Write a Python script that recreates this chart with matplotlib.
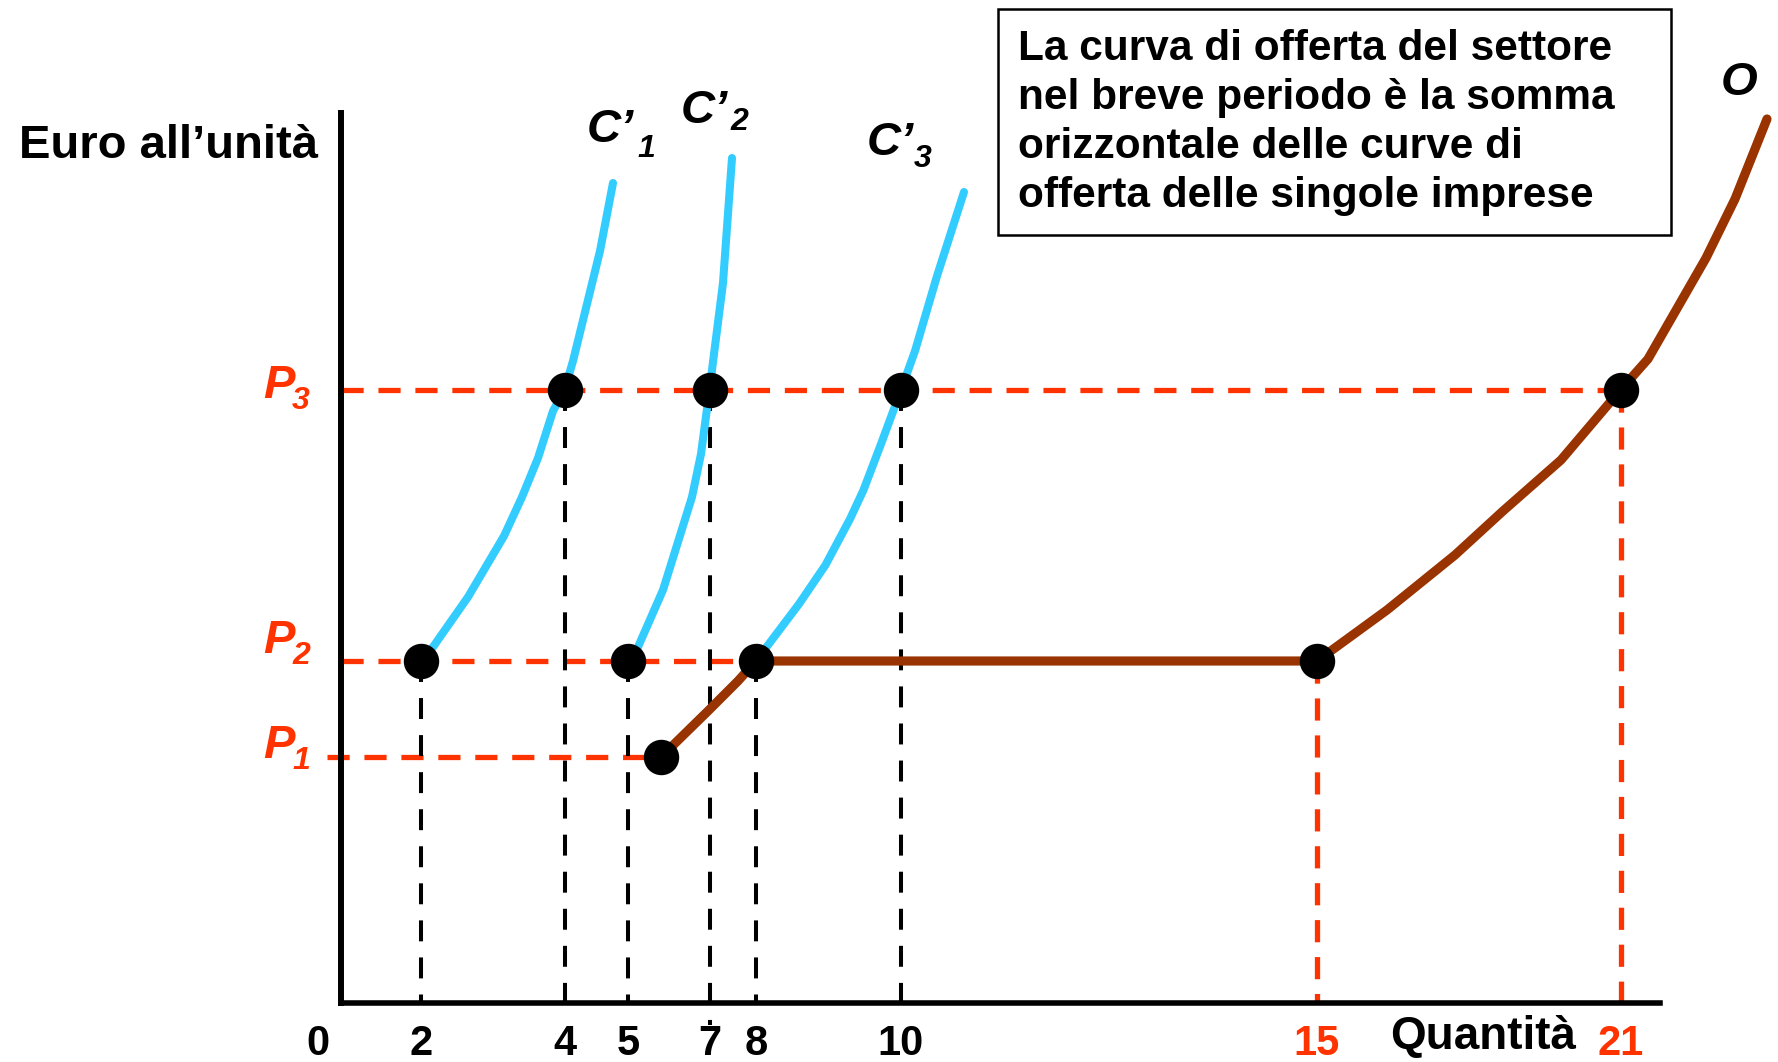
import matplotlib.pyplot as plt
from matplotlib.patches import Rectangle

plt.rcParams['font.family'] = ['Liberation Sans', 'DejaVu Sans']

# colours
CYAN = '#33CCFF'
BROWN = '#993300'
RED = '#FF3300'

# schematic units: x = quantity axis, y = euro per unit (origin at the axes corner)
price_subs = ['1', '2', '3']
price_y = [246, 342, 613]

qty_labels = ['2', '4', '5', '7', '8', '10', '15', '21']
qty_x = [80, 223.5, 287, 368.5, 415, 560, 976, 1279.5]
qty_price = [1, 2, 1, 2, 1, 2, 1, 2]          # index into price_y
qty_sector = [False, False, False, False, False, False, True, True]

# marginal cost curves of the three firms
c1_x = [80, 92, 127, 163, 181, 197, 212, 223.5, 232, 246, 259, 272]
c1_y = [342, 356, 406, 467, 506, 545, 592, 613, 642, 699, 752, 820]
c2_x = [287, 297, 322, 351, 360, 368.5, 373, 382, 391]
c2_y = [342, 356, 413, 506, 549, 613, 649, 720, 845]
c3_x = [320, 367, 397, 415, 458, 484.5, 509, 522.5, 540, 560, 574, 596, 623]
c3_y = [246, 292, 322, 342, 399, 438, 484, 513, 559, 613, 652, 727, 811]

# short-run industry supply O
o_x = [320, 367, 397, 415, 976, 1046, 1114, 1162, 1220, 1279.5, 1307, 1365, 1394, 1426]
o_y = [246, 292, 322, 342, 342, 393, 448, 492, 543, 613, 644, 745, 804, 884]

box_lines = ['La curva di offerta del settore',
             'nel breve periodo è la somma',
             'orizzontale delle curve di',
             'offerta delle singole imprese']

fig = plt.figure(figsize=(17.78, 10.62), dpi=100)
ax = fig.add_axes([341 / 1778, 59 / 1062, 1319 / 1778, 890 / 1062])
ax.set_xlim(0, 1319)
ax.set_ylim(0, 890)
for s in ['top', 'right']:
    ax.spines[s].set_visible(False)
ax.spines['left'].set_linewidth(4.3)
ax.spines['bottom'].set_linewidth(4.0)
ax.set_xticks([])
ax.set_yticks([])

red_dash = dict(color=RED, lw=3.8, ls=(0, (4.2, 2.8)), zorder=2, clip_on=False)
black_dash = dict(color='black', lw=2.9, ls=(0, (5.2, 4.0)), zorder=2, clip_on=False)

# horizontal price guides
ax.plot([0, qty_x[7]], [price_y[2], price_y[2]], **red_dash)
ax.plot([0, qty_x[4]], [price_y[1], price_y[1]], **red_dash)
ax.plot([-14, o_x[0]], [price_y[0], price_y[0]], **red_dash)

# vertical quantity guides
for lab, x, pi, sector in zip(qty_labels, qty_x, qty_price, qty_sector):
    y_end = -22 if lab == '7' else 0
    style = red_dash if sector else black_dash
    ax.plot([x, x], [price_y[pi], y_end], **style)

# curves
for cx, cy in [(c1_x, c1_y), (c2_x, c2_y), (c3_x, c3_y)]:
    ax.plot(cx, cy, color=CYAN, lw=5.8, solid_capstyle='round',
            solid_joinstyle='round', zorder=3, clip_on=False)
ax.plot(o_x, o_y, color=BROWN, lw=6.6, solid_capstyle='round',
        solid_joinstyle='round', zorder=4, clip_on=False)

# points
dot_x = qty_x + [o_x[0]]
dot_y = [price_y[i] for i in qty_price] + [price_y[0]]
ax.plot(dot_x, dot_y, 'o', ms=24.5, color='black', zorder=6, clip_on=False)

# quantity labels
ax.text(-23, -52, '0', fontsize=30, fontweight='bold', ha='center', va='baseline')
for lab, x, sector in zip(qty_labels, qty_x, qty_sector):
    ax.text(x, -52, lab, fontsize=30, fontweight='bold', ha='center',
            va='baseline', color=RED if sector else 'black')
ax.text(1049, -46, 'Quantità', fontsize=33, fontweight='bold', va='baseline')
ax.text(-322, 845, 'Euro all’unità', fontsize=34, fontweight='bold', va='baseline')


def sub_label(x, y, main, sub, sx, sy, color):
    ax.text(x, y, main, fontsize=34, fontweight='bold', fontstyle='italic',
            color=color, va='baseline')
    ax.text(sx, sy, sub, fontsize=23, fontweight='bold', fontstyle='italic',
            color=color, va='baseline')


# price labels
p_base = [245, 350, 605]
for sub, yb in zip(price_subs, p_base):
    sub_label(-78, yb, 'P', sub, -49, yb - 11, RED)

# firm curve labels
sub_label(246, 861, 'C’', '1', 296, 846, 'black')
sub_label(340, 880, 'C’', '2', 390, 873, 'black')
sub_label(526, 848, 'C’', '3', 573, 836, 'black')
ax.text(1380, 908, 'O', fontsize=34, fontweight='bold', fontstyle='italic',
        va='baseline')

# explanation box
ax.add_patch(Rectangle((656.5, 768), 673.5, 225.7, fill=False, lw=1.8,
                       edgecolor='black', clip_on=False, zorder=5))
for k, line in enumerate(box_lines):
    ax.text(676.6, 943 - 49 * k, line, fontsize=30.5, fontweight='bold',
            va='baseline')

fig.savefig('out.png', dpi=100)
